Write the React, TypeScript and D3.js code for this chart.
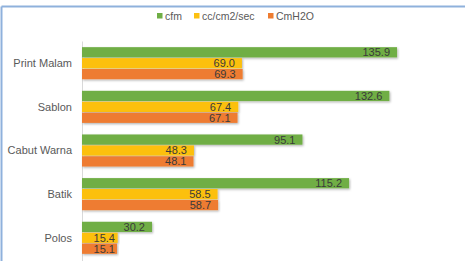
import React, { useEffect, useRef } from "react"
import * as d3 from "d3"

const categories = ["Print Malam", "Sablon", "Cabut Warna", "Batik", "Polos"]
const seriesNames = ["cfm", "cc/cm2/sec", "CmH2O"]
const cfm = [135.9, 132.6, 95.1, 115.2, 30.2]
const ccPerSec = [69.0, 67.4, 48.3, 58.5, 15.4]
const cmH2O = [69.3, 67.1, 48.1, 58.7, 15.1]
const colors = ["#6fae45", "#fcc010", "#ee7c30"]

const W = 465
const H = 261
const font = "'Liberation Sans', Arial, sans-serif"

export default function App() {
  const ref = useRef<SVGSVGElement>(null)

  useEffect(() => {
    const svg = d3.select(ref.current)
    svg.selectAll("*").remove()

    const series = [cfm, ccPerSec, cmH2O]
    const rows = categories.map((c, i) => ({
      name: c,
      values: series.map((s, k) => ({ key: seriesNames[k], value: s[i], color: colors[k] })),
    }))

    const margin = { top: 41.5, left: 82 }

    const y = d3
      .scaleBand()
      .domain(categories)
      .range([margin.top, margin.top + 5 * 43.6])
      .paddingInner(0.265)
      .paddingOuter(0.13)

    const yInner = d3.scaleBand().domain(seriesNames).range([0, y.bandwidth()]).paddingInner(0.06)

    const x = d3.scaleLinear().domain([0, 160]).range([margin.left, margin.left + 160 * 2.318])

    // drop shadow under the bars
    const defs = svg.append("defs")
    const f = defs.append("filter").attr("id", "shadow").attr("x", "-5%").attr("y", "-30%").attr("width", "110%").attr("height", "180%")
    f.append("feDropShadow")
      .attr("dx", 1)
      .attr("dy", 1.2)
      .attr("stdDeviation", 0.8)
      .attr("flood-color", "#000")
      .attr("flood-opacity", 0.3)

    // frame
    svg.append("line").attr("x1", 1.5).attr("x2", W).attr("y1", 6.5).attr("y2", 6.5).attr("stroke", "#8fb1dc").attr("stroke-width", 2)
    svg.append("line").attr("x1", 1.5).attr("x2", 1.5).attr("y1", 6.5).attr("y2", H).attr("stroke", "#8fb1dc").attr("stroke-width", 2)

    // legend
    const legendX = [157, 194, 268]
    const legend = svg.append("g")
    seriesNames.forEach((n, k) => {
      legend.append("rect").attr("x", legendX[k]).attr("y", 13).attr("width", 5.5).attr("height", 5.5).attr("fill", colors[k])
      legend
        .append("text")
        .attr("x", legendX[k] + 8)
        .attr("y", 20)
        .attr("font-family", font)
        .attr("font-size", 10.5)
        .attr("fill", "#595959")
        .text(n)
    })

    // category axis
    svg
      .append("line")
      .attr("x1", margin.left + 0.5)
      .attr("x2", margin.left + 0.5)
      .attr("y1", margin.top)
      .attr("y2", H)
      .attr("stroke", "#d9d9d9")

    svg
      .append("g")
      .selectAll("text")
      .data(rows)
      .join("text")
      .attr("x", 72)
      .attr("y", d => y(d.name)! + y.bandwidth() / 2)
      .attr("dy", "0.35em")
      .attr("text-anchor", "end")
      .attr("font-family", font)
      .attr("font-size", 11)
      .attr("fill", "#595959")
      .text(d => d.name)

    const groups = svg
      .append("g")
      .selectAll("g")
      .data(rows)
      .join("g")
      .attr("transform", d => `translate(0,${y(d.name)})`)

    groups
      .selectAll("rect")
      .data(d => d.values)
      .join("rect")
      .attr("x", x(0))
      .attr("y", d => yInner(d.key)!)
      .attr("width", d => x(d.value) - x(0))
      .attr("height", yInner.bandwidth())
      .attr("fill", d => d.color)
      .attr("filter", "url(#shadow)")

    groups
      .selectAll("text")
      .data(d => d.values)
      .join("text")
      .attr("x", d => Math.max(x(d.value) - 7, x(0) + 33))
      .attr("y", d => yInner(d.key)! + yInner.bandwidth() / 2)
      .attr("dy", "0.36em")
      .attr("text-anchor", "end")
      .attr("font-family", font)
      .attr("font-size", 11)
      .attr("fill", "#3a3a3a")
      .text(d => d.value.toFixed(1))
  }, [])

  return (
    <svg
      ref={ref}
      width={W}
      height={H}
      style={{ position: "absolute", left: 0, top: 0, background: "#fff" }}
    />
  )
}
